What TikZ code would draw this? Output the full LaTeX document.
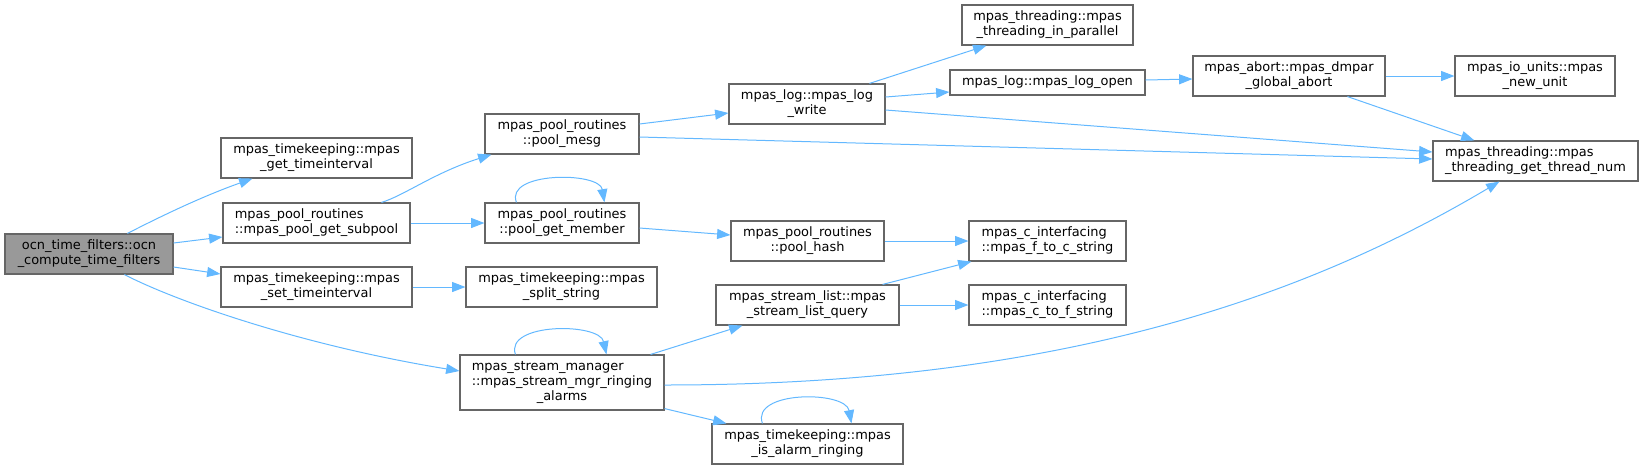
\documentclass[tikz,border=0pt]{standalone}
\usepackage{fontspec}
\setmainfont{DejaVu Sans}
\usetikzlibrary{arrows.meta}
\definecolor{edgeblue}{HTML}{63B8FF}
\definecolor{boxgray}{HTML}{666666}
\definecolor{mainfill}{HTML}{999999}
\tikzset{
  fn/.style={draw=boxgray, line width=0.85pt, fill=white, inner sep=0pt,
    font=\fontsize{9.7}{11.25}\selectfont, align=center},
  fnl/.style={fn, align=left},
  fnmain/.style={fn, fill=mainfill},
  call/.style={draw=edgeblue, line width=0.75pt, -{Triangle[length=10pt,width=7.5pt]}},
}
\newcommand\mkb[7][fn]{%
  \node[#1, minimum width={(#5-#3)*0.75pt}, minimum height={(#6-#4)*0.75pt}]
    (#2) at ({(#3+#5)/2},{(#4+#6)/2}) {#7};}
\begin{document}
\begin{tikzpicture}[x=0.75pt, y=-0.75pt]
\useasboundingbox (0,0) rectangle (1643,469);
% nodes
\mkb[fnmain]{main}{5}{234}{173}{274}{ocn\_time\_filters::ocn\\\_compute\_time\_filters}
\mkb{gti}{221}{138}{412}{178}{mpas\_timekeeping::mpas\\\_get\_timeinterval}
\mkb[fnl]{sub}{223}{203}{410}{243}{mpas\_pool\_routines\\::mpas\_pool\_get\_subpool}
\mkb{sti}{221}{267}{412}{307}{mpas\_timekeeping::mpas\\\_set\_timeinterval}
\mkb{mesg}{485}{114}{639}{154}{mpas\_pool\_routines\\::pool\_mesg}
\mkb{gm}{485}{203}{639}{243}{mpas\_pool\_routines\\::pool\_get\_member}
\mkb{split}{466}{267}{657}{307}{mpas\_timekeeping::mpas\\\_split\_string}
\mkb{mgr}{460}{355}{664}{410}{\begin{tabular}{@{}l@{}}mpas\_stream\_manager\\::mpas\_stream\_mgr\_ringing\\\multicolumn{1}{@{}c@{}}{\_alarms}\end{tabular}}
\mkb{lw}{729}{84}{885}{124}{mpas\_log::mpas\_log\\\_write}
\mkb{hash}{731}{221}{884}{261}{mpas\_pool\_routines\\::pool\_hash}
\mkb{lq}{716}{285}{899}{325}{mpas\_stream\_list::mpas\\\_stream\_list\_query}
\mkb{alarm}{712}{424}{903}{464}{mpas\_timekeeping::mpas\\\_is\_alarm\_ringing}
\mkb{par}{962}{5}{1133}{45}{mpas\_threading::mpas\\\_threading\_in\_parallel}
\mkb{lo}{950}{70}{1145}{95}{mpas\_log::mpas\_log\_open}
\mkb[fnl]{f2c}{969}{221}{1126}{261}{mpas\_c\_interfacing\\::mpas\_f\_to\_c\_string}
\mkb[fnl]{c2f}{969}{285}{1126}{325}{mpas\_c\_interfacing\\::mpas\_c\_to\_f\_string}
\mkb{ga}{1193}{56}{1385}{96}{mpas\_abort::mpas\_dmpar\\\_global\_abort}
\mkb{nu}{1455}{56}{1615}{96}{mpas\_io\_units::mpas\\\_new\_unit}
\mkb[fnl]{tn}{1433}{141}{1638}{181}{mpas\_threading::mpas\\\_threading\_get\_thread\_num}
% edges
\draw[call] ([shift={(123,0)}]main.north west) .. controls +(37,-19) and +(-48,17) .. ([shift={(32,0)}]gti.south west);
\draw[call] ([shift={(0,-11)}]main.east) -- ([shift={(0,14)}]sub.west);
\draw[call] ([shift={(0,13)}]main.east) -- ([shift={(0,-13)}]sti.west);
\draw[call] ([shift={(120,0)}]main.south west) .. controls +(50,26) and +(-160,-26) .. ([shift={(0,-11.5)}]mgr.west);
\draw[call] ([shift={(159,0)}]sub.north west) .. controls +(23,-7) and +(-57,18) .. ([shift={(7,0)}]mesg.south west);
\draw[call] (sub.east) -- (gm.west);
\draw[call] (sti.east) -- (split.west);
\draw[call] ([shift={(32,0)}]gm.north west) .. controls +(-12,-31) and +(-5,-31) .. ([shift={(120,0)}]gm.north west);
\draw[call] ([shift={(0,-10)}]mesg.east) -- ([shift={(0,9)}]lw.west);
\draw[call] ([shift={(0,3)}]mesg.east) -- ([shift={(0,-2)}]tn.west);
\draw[call] ([shift={(0,5)}]gm.east) -- ([shift={(0,-6)}]hash.west);
\draw[call] ([shift={(141,0)}]lw.north west) -- ([shift={(25,0)}]par.south west);
\draw[call] ([shift={(0,-7)}]lw.east) -- ([shift={(0,9.5)}]lo.west);
\draw[call] ([shift={(0,6)}]lw.east) -- ([shift={(0,-9)}]tn.west);
\draw[call] ([shift={(0,-2.5)}]lo.east) -- ([shift={(0,3)}]ga.west);
\draw[call] (ga.east) -- (nu.west);
\draw[call] ([shift={(155,0)}]ga.south west) -- ([shift={(42,0)}]tn.north west);
\draw[call] (hash.east) -- (f2c.west);
\draw[call] ([shift={(-17,0)}]lq.north east) -- ([shift={(3,0)}]f2c.south west);
\draw[call] (lq.east) -- (c2f.west);
\draw[call] ([shift={(56,0)}]mgr.north west) .. controls +(-11,-32) and +(-7,-32) .. ([shift={(147,0)}]mgr.north west);
\draw[call] ([shift={(-14,0)}]mgr.north east) -- ([shift={(27,0)}]lq.south west);
\draw[call] ([shift={(0,2.5)}]mgr.east) .. controls +(386,0) and +(-200,119) .. ([shift={(67,0)}]tn.south west);
\draw[call] ([shift={(0,-2)}]mgr.south east) -- ([shift={(15,0)}]alarm.north west);
\draw[call] ([shift={(51,0)}]alarm.north west) .. controls +(-12,-33) and +(-6,-33) .. ([shift={(140,0)}]alarm.north west);
\end{tikzpicture}
\end{document}
